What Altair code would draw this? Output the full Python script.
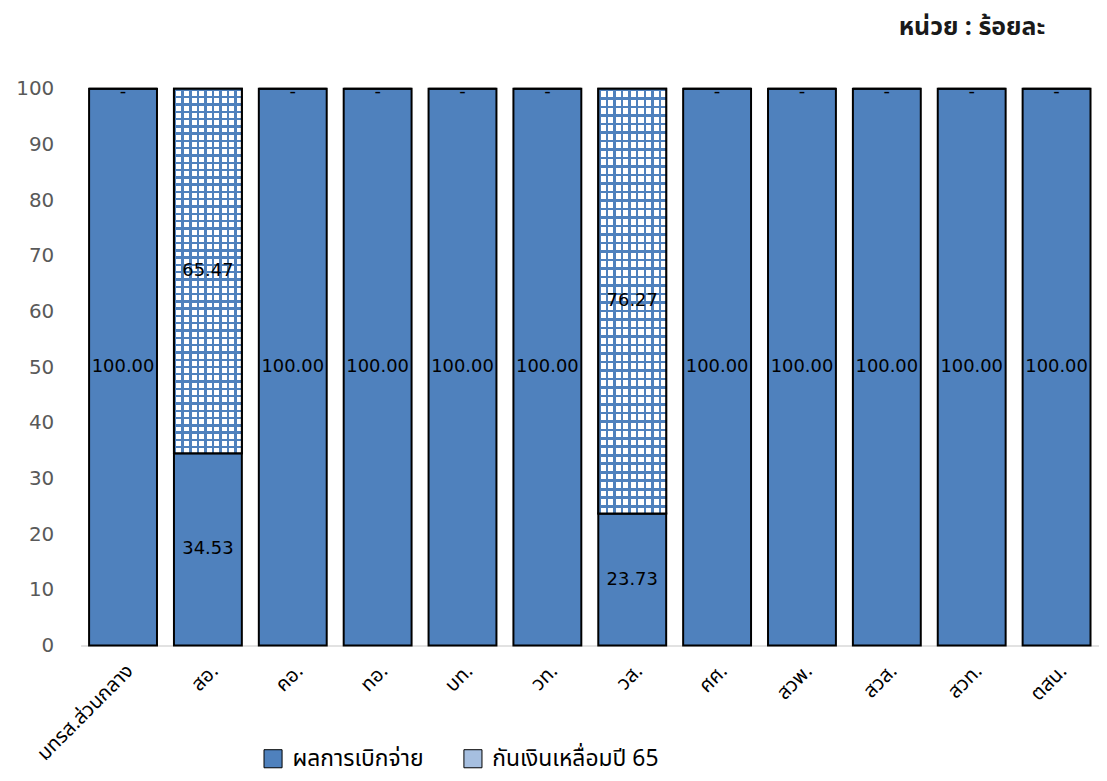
import altair as alt
import pandas as pd

categories = ["มทรส.ส่วนกลาง", "สอ.", "คอ.", "ทอ.", "บท.", "วท.", "วส.", "ศศ.", "สวพ.", "สวส.", "สวท.", "ตสน."]
paid = [100, 34.53, 100, 100, 100, 100, 23.73, 100, 100, 100, 100, 100]
reserve = [0, 65.47, 0, 0, 0, 0, 76.27, 0, 0, 0, 0, 0]
series_names = ["ผลการเบิกจ่าย", "กันเงินเหลื่อมปี 65"]
unit_title = "หน่วย : ร้อยละ"

rows = []
for i, c in enumerate(categories):
    rows.append({"cat": c, "series": series_names[0], "value": paid[i], "order": 0})
    rows.append({"cat": c, "series": series_names[1], "value": reserve[i], "order": 1})
df = pd.DataFrame(rows)

BLUE = "#4f81bd"
CLEAR = "rgba(79,129,189,0)"
THAI = "Noto Sans Thai, Tahoma, DejaVu Sans, sans-serif"


def stripes(n, frac, vertical):
    stops = []
    for i in range(n):
        a = i / n
        b = (i + frac) / n
        e = (i + 1) / n
        stops += [
            {"offset": a, "color": BLUE},
            {"offset": b, "color": BLUE},
            {"offset": b, "color": CLEAR},
            {"offset": e, "color": CLEAR},
        ]
    g = {"gradient": "linear", "stops": stops}
    if vertical:
        g.update({"x1": 0, "x2": 1, "y1": 0, "y2": 0})
    else:
        g.update({"x1": 0, "x2": 0, "y1": 0, "y2": 1})
    return g


base = alt.Chart(df).transform_stack(
    stack="value", groupby=["cat"], sort=[alt.SortField("order")], as_=["y0", "y1"]
)

xenc = alt.X(
    "cat:N",
    sort=categories,
    title=None,
    scale=alt.Scale(paddingInner=0.2, paddingOuter=0.1),
    axis=alt.Axis(
        labelAngle=-45,
        labelFontSize=20,
        labelFont=THAI,
        labelColor="#000000",
        ticks=False,
        domainColor="#d9d9d9",
        domainWidth=1.5,
        labelPadding=15,
    ),
)
yenc = alt.Y(
    "y0:Q",
    title=None,
    scale=alt.Scale(domain=[0, 100]),
    axis=alt.Axis(
        values=list(range(0, 101, 10)),
        grid=False,
        ticks=False,
        domain=False,
        labelFontSize=20,
        labelFont="DejaVu Sans",
        labelColor="#595959",
        labelPadding=27,
    ),
)

bars = base.mark_bar(stroke="black", strokeWidth=2).encode(
    x=xenc,
    y=yenc,
    y2="y1:Q",
    color=alt.Color(
        "series:N",
        scale=alt.Scale(domain=series_names, range=[BLUE, "#a6bfe0"]),
        legend=alt.Legend(
            title=None,
            orient="none",
            legendX=182,
            legendY=662,
            direction="horizontal",
            symbolType="square",
            symbolSize=330,
            symbolStrokeColor="black",
            symbolStrokeWidth=1,
            symbolOpacity=1,
            labelFontSize=23,
            labelFont=THAI,
            labelColor="#000000",
            labelLimit=0,
            columnPadding=38,
            labelOffset=8,
        ),
    ),
)

s2 = base.transform_filter(alt.datum.order == 1).transform_filter(alt.datum.value > 0)

white = s2.mark_bar(color="white").encode(x=xenc, y=yenc, y2="y1:Q")
vstripes = s2.mark_bar(color=stripes(9, 0.33, True)).encode(x=xenc, y=yenc, y2="y1:Q")
hstripes = s2.mark_bar(color=stripes(50, 0.33, False)).encode(x=xenc, y=yenc, y2="y1:Q")
outline = s2.mark_bar(fillOpacity=0, stroke="black", strokeWidth=2).encode(x=xenc, y=yenc, y2="y1:Q")

lab_base = base.transform_calculate(
    mid="(datum.y0 + datum.y1) / 2",
    label="datum.value == 0 ? '-' : format(datum.value, '.2f')",
)
labels = lab_base.transform_filter(alt.datum.value > 0).mark_text(
    font="DejaVu Sans", fontSize=18, color="black", baseline="middle"
).encode(x=xenc, y=alt.Y("mid:Q"), text="label:N")
dashes = lab_base.transform_filter(alt.datum.value == 0).mark_text(
    font="DejaVu Sans", fontSize=18, color="black", baseline="middle", dy=3
).encode(x=xenc, y=alt.Y("mid:Q"), text="label:N")

chart = (
    alt.layer(bars, white, vstripes, hstripes, outline, labels, dashes)
    .properties(
        width=1024,
        height=560,
        padding={"left": 7, "top": 5, "right": 0, "bottom": 8},
        title=alt.TitleParams(
            unit_title,
            anchor="end",
            fontSize=25,
            font=THAI,
            fontWeight="bold",
            color="#1a1a1a",
            offset=39,
            dx=-54,
        ),
    )
    .configure_view(stroke=None)
)

chart.save("out.html", embed_options={"renderer": "svg", "actions": False})
